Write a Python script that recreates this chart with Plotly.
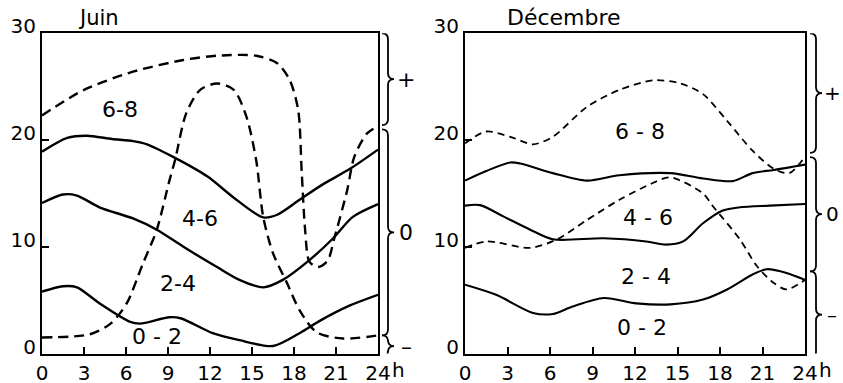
import plotly.graph_objects as go

# ---------------- data ----------------
panel_titles = ["Juin", "Décembre"]
x_tick_vals = [0, 3, 6, 9, 12, 15, 18, 21, 24]
x_tick_text = ["0", "3", "6", "9", "12", "15", "18", "21", "24"]
y_tick_vals = [0, 10, 20, 30]
y_tick_text = ["0", "10", "20", "30"]
band_labels = ["6-8", "4-6", "2-4", "0 - 2"]
band_labels_dec = ["6 - 8", "4 - 6", "2 - 4", "0 - 2"]
brace_signs = ["+", "0", "–"]

# Juin - solid curves
juin_a_h = [0, 1.8, 3.2, 5, 6.5, 7.5, 9.4, 11.8, 13.7, 15.8, 16.8, 18.4, 20, 22, 24]
juin_a_v = [18.9, 20.2, 20.4, 20.1, 19.9, 19.6, 18.4, 16.6, 14.6, 12.75, 13.0, 14.4, 15.8, 17.3, 19.1]
juin_b_h = [0, 1.5, 2.5, 4.1, 6.5, 8.2, 10.1, 12.5, 14.1, 15.8, 17.2, 19.1, 20.8, 22.2, 24]
juin_b_v = [14.1, 14.9, 14.8, 13.7, 12.65, 11.6, 10.0, 8.1, 6.9, 6.2, 6.9, 8.75, 10.8, 12.8, 14.0]
juin_c_h = [0, 1.5, 2.5, 4.1, 6.3, 7.0, 9.1, 9.9, 12.2, 14.1, 16.5, 18.4, 19.9, 22, 24]
juin_c_v = [5.8, 6.3, 6.2, 4.7, 2.96, 2.8, 3.4, 3.3, 1.9, 1.25, 0.7, 1.9, 3.1, 4.5, 5.5]
# Juin - dashed curves
juin_d_h = [0, 3, 6.5, 10.1, 12.5, 15.3, 16.8, 17.7, 18.3, 18.55, 18.8, 19.1, 19.7, 20.4, 20.9, 21.8, 22.3, 23.2, 24]
juin_d_v = [22.3, 24.7, 26.4, 27.5, 27.9, 27.9, 27.2, 25.6, 22.8, 17.0, 11.5, 8.6, 8.1, 8.7, 10.9, 15.3, 18.4, 20.6, 21.3]
juin_e_h = [0, 3.4, 4.9, 6.05, 7.2, 8.2, 9.1, 9.5, 10.3, 11.3, 12.5, 13.7, 14.6, 15.3, 15.8, 16.5, 17.5, 18.4, 19.6, 21.5, 24]
juin_e_v = [1.5, 1.8, 2.8, 4.7, 8.4, 11.6, 16.2, 18.1, 22.5, 24.7, 25.3, 24.7, 22.2, 18.1, 12.8, 9.4, 6.6, 4.06, 2.0, 1.4, 1.7]

# Decembre - solid curves
dec_f_h = [0, 1.5, 3.2, 3.9, 6.2, 8.6, 10.9, 14.5, 16.8, 18.9, 20.3, 21.8, 24]
dec_f_v = [16.2, 17.1, 17.9, 17.8, 16.9, 16.2, 16.7, 16.9, 16.4, 16.15, 16.9, 17.2, 17.7]
dec_g_h = [0, 1.06, 2.7, 4.6, 6.2, 9.8, 12.8, 14.2, 15.4, 16.8, 18.2, 19.4, 21.5, 24]
dec_g_v = [13.85, 13.9, 12.85, 11.6, 10.7, 10.8, 10.5, 10.2, 10.5, 12.2, 13.4, 13.7, 13.85, 14.0]
dec_h_h = [0, 2.2, 4.8, 6.2, 7.6, 9.8, 12.1, 14.5, 16.8, 18.5, 20.3, 21.3, 22.7, 24]
dec_h_v = [6.45, 5.5, 3.8, 3.7, 4.4, 5.2, 4.7, 4.6, 5.05, 6.0, 7.4, 7.9, 7.55, 6.9]
# Decembre - dashed curves
dec_i_h = [0, 1.5, 3.2, 4.8, 6.2, 8.6, 10.9, 13.3, 15.2, 16.8, 18.5, 20.3, 21.8, 22.9, 24]
dec_i_v = [19.7, 20.8, 20.3, 19.6, 20.3, 23.1, 24.7, 25.6, 25.3, 24.3, 21.8, 19.0, 17.3, 16.9, 18.45]
dec_j_h = [0, 1.5, 4.6, 6.5, 8.6, 10.9, 13.3, 14.5, 16.8, 17.5, 19.4, 20.6, 21.8, 22.7, 24]
dec_j_v = [9.9, 10.5, 9.9, 10.7, 12.5, 14.4, 16.0, 16.5, 15.0, 13.8, 10.7, 8.2, 6.6, 6.0, 6.9]

# brace ranges (top, bottom) in y units
juin_braces = [(30, 21.4), (21.0, 1.7), (1.7, -0.3)]
dec_braces = [(30, 18.8), (18.4, 7.7), (7.7, -0.4)]

# ---------------- layout helpers ----------------
W, H = 843, 383
FONT = "DejaVu Sans"
INK = "black"


def px_dom(a, b, total):
    return [a / total, b / total]


fig = go.Figure()

solid_w = 2.4
juin_dash = "10px,6px"
dec_dash = "7px,5px"

for hx, vy in [(juin_a_h, juin_a_v), (juin_b_h, juin_b_v), (juin_c_h, juin_c_v)]:
    fig.add_trace(go.Scatter(x=hx, y=vy, mode="lines", xaxis="x", yaxis="y",
                             line=dict(color=INK, width=solid_w, shape="spline", smoothing=0.8),
                             showlegend=False, hoverinfo="skip", cliponaxis=False))
for hx, vy in [(juin_d_h, juin_d_v), (juin_e_h, juin_e_v)]:
    fig.add_trace(go.Scatter(x=hx, y=vy, mode="lines", xaxis="x", yaxis="y",
                             line=dict(color=INK, width=solid_w, dash=juin_dash, shape="spline", smoothing=0.8),
                             showlegend=False, hoverinfo="skip", cliponaxis=False))
for hx, vy in [(dec_f_h, dec_f_v), (dec_g_h, dec_g_v), (dec_h_h, dec_h_v)]:
    fig.add_trace(go.Scatter(x=hx, y=vy, mode="lines", xaxis="x2", yaxis="y2",
                             line=dict(color=INK, width=2.1, shape="spline", smoothing=0.8),
                             showlegend=False, hoverinfo="skip", cliponaxis=False))
for hx, vy in [(dec_i_h, dec_i_v), (dec_j_h, dec_j_v)]:
    fig.add_trace(go.Scatter(x=hx, y=vy, mode="lines", xaxis="x2", yaxis="y2",
                             line=dict(color=INK, width=1.8, dash=dec_dash, shape="spline", smoothing=0.8),
                             showlegend=False, hoverinfo="skip", cliponaxis=False))

axis_common = dict(showline=True, mirror=True, linecolor=INK, linewidth=2,
                   ticks="inside", ticklen=7, tickwidth=2, tickcolor=INK,
                   showgrid=False, zeroline=False, automargin=False,
                   tickfont=dict(family=FONT, size=20, color=INK))

ydom = [(H - 353.5) / H, (H - 33.3) / H]

fig.update_layout(
    width=W, height=H,
    margin=dict(l=0, r=0, t=0, b=0),
    paper_bgcolor="white", plot_bgcolor="white",
    xaxis=dict(domain=px_dom(42, 378, W), range=[0, 24], tickvals=x_tick_vals,
               ticktext=x_tick_text, anchor="y", ticklabelstandoff=0, **axis_common),
    yaxis=dict(domain=ydom, range=[0, 30], tickvals=y_tick_vals, ticktext=y_tick_text,
               anchor="x", ticklabelshift=-7, **axis_common),
    xaxis2=dict(domain=px_dom(465, 805, W), range=[0, 24], tickvals=x_tick_vals,
                ticktext=x_tick_text, anchor="y2", ticklabelstandoff=0, **axis_common),
    yaxis2=dict(domain=ydom, range=[0, 30], tickvals=y_tick_vals, ticktext=y_tick_text,
                anchor="x2", ticklabelshift=-7, **axis_common),
)

annotations = []
# panel titles
annotations.append(dict(text=panel_titles[0], xref="x", yref="y", x=2.4, y=30, yshift=15,
                        showarrow=False, xanchor="left", yanchor="middle",
                        font=dict(family=FONT, size=21, color=INK)))
annotations.append(dict(text=panel_titles[1], xref="x2", yref="y2", x=2.8, y=30, yshift=16,
                        showarrow=False, xanchor="left", yanchor="middle",
                        font=dict(family=FONT, size=22, color=INK)))
# "h" unit after 24
for xr, yr in [("x", "y"), ("x2", "y2")]:
    annotations.append(dict(text="h", xref=xr, yref=yr, x=24, y=0, xshift=12, yshift=-16,
                            showarrow=False, xanchor="left", yanchor="middle",
                            font=dict(family=FONT, size=20, color=INK)))

# band labels
juin_label_pos = [(5.6, 22.9), (11.3, 12.65), (9.7, 6.6), (8.2, 1.55)]
dec_label_pos = [(12.35, 20.8), (12.9, 12.7), (12.8, 7.2), (12.5, 2.4)]
for txt, (lx, ly) in zip(band_labels, juin_label_pos):
    annotations.append(dict(text=txt, xref="x", yref="y", x=lx, y=ly, showarrow=False,
                            font=dict(family=FONT, size=22, color=INK)))
for txt, (lx, ly) in zip(band_labels_dec, dec_label_pos):
    annotations.append(dict(text=txt, xref="x2", yref="y2", x=lx, y=ly, showarrow=False,
                            font=dict(family=FONT, size=22, color=INK)))

# braces
shapes = []


def brace_path(xe, xs, xt, ytop, ybot, c):
    ym = (ytop + ybot) / 2
    return (f"M {xe},{ytop} Q {xs},{ytop} {xs},{ytop - c} "
            f"L {xs},{ym + c} Q {xs},{ym} {xt},{ym} "
            f"Q {xs},{ym} {xs},{ym - c} "
            f"L {xs},{ybot + c} Q {xs},{ybot} {xe},{ybot}")


for braces, yr, (xe, xs, xt, xlab, fs) in [
    (juin_braces, "y", (382, 388, 394, 406, 22)),
    (dec_braces, "y2", (810, 816, 822, 832, 20)),
]:
    for (yt, yb), sign in zip(braces, brace_signs):
        shapes.append(dict(type="path", xref="paper", yref=yr,
                           path=brace_path(xe / W, xs / W, xt / W, yt, yb, 0.55),
                           line=dict(color=INK, width=1.8)))
        annotations.append(dict(text=sign, xref="paper", yref=yr, x=xlab / W, y=(yt + yb) / 2,
                                showarrow=False, xanchor="center", yanchor="middle",
                                font=dict(family=FONT, size=fs, color=INK)))

fig.update_layout(annotations=annotations, shapes=shapes)

fig.write_html("out.html", config={"displayModeBar": False},
               post_script="document.body.style.margin='0';document.body.style.overflow='hidden';")
